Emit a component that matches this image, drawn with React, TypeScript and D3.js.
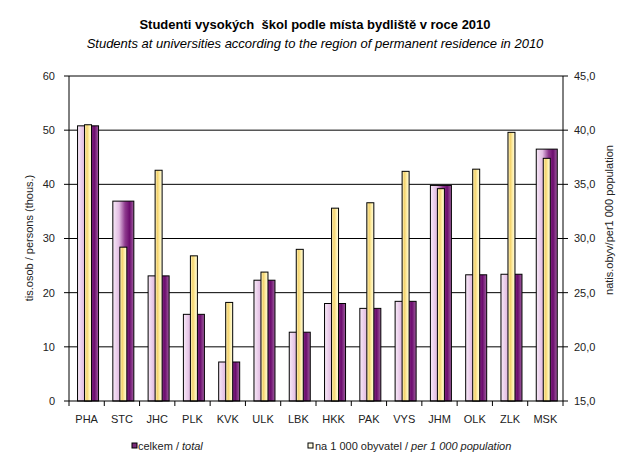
import * as d3 from 'd3';

const categories = ['PHA', 'STC', 'JHC', 'PLK', 'KVK', 'ULK', 'LBK', 'HKK', 'PAK', 'VYS', 'JHM', 'OLK', 'ZLK', 'MSK'];
// celkem / total (tis. osob)
const totals = [50.8, 36.9, 23.1, 16.0, 7.2, 22.3, 12.7, 18.0, 17.1, 18.4, 39.8, 23.3, 23.4, 46.5];
// na 1 000 obyvatel
const perThousand = [40.5, 29.2, 36.3, 28.4, 24.1, 26.9, 29.0, 32.8, 33.3, 36.2, 34.6, 36.4, 39.8, 37.4];
const leftTicks = [0, 10, 20, 30, 40, 50, 60];
const rightTicks = [15, 20, 25, 30, 35, 40, 45];

const W = 626;
const H = 472;
const PLOT = { left: 69, right: 563, top: 76, bottom: 401 };
const FONT = 'Arial, "Liberation Sans", sans-serif';

export default function App() {
  const x = d3.scaleBand<string>().domain(categories).range([PLOT.left, PLOT.right]).padding(0);
  const yL = d3.scaleLinear().domain([0, 60]).range([PLOT.bottom, PLOT.top]);
  const yR = d3.scaleLinear().domain([15, 45]).range([PLOT.bottom, PLOT.top]);
  const fmtR = (v: number) => d3.format('.1f')(v).replace('.', ',');

  const purpleW = 21;
  const yellowW = 7;
  const boundaries = [...categories.map((c) => x(c)!), PLOT.right];

  return (
    <svg width={W} height={H} style={{ position: 'absolute', left: 0, top: 0, background: '#fff' }} fontFamily={FONT}>
      <defs>
        <linearGradient id="purple" x1="0" x2="1" y1="0" y2="0">
          <stop offset="0" stopColor="#f8eaf8" />
          <stop offset="0.3" stopColor="#e2bce2" />
          <stop offset="0.58" stopColor="#8e3a8e" />
          <stop offset="0.8" stopColor="#6c0c6e" />
          <stop offset="1" stopColor="#a060a0" />
        </linearGradient>
        <linearGradient id="yellow" x1="0" x2="1" y1="0" y2="0">
          <stop offset="0" stopColor="#fff6c8" />
          <stop offset="0.35" stopColor="#f4d36e" />
          <stop offset="0.7" stopColor="#fff2b0" />
          <stop offset="1" stopColor="#fffbe2" />
        </linearGradient>
      </defs>
      <rect width={W} height={H} fill="#fff" />

      <text x={315} y={29} textAnchor="middle" fontSize={13} fontWeight="bold">
        Studenti vysokých&#160; škol podle místa bydliště v roce 2010
      </text>
      <text x={315} y={48} textAnchor="middle" fontSize={13} fontStyle="italic">
        Students at universities according to the region of permanent residence in 2010
      </text>

      {/* gridlines */}
      {leftTicks.slice(1).map((t) => (
        <line key={t} x1={PLOT.left} x2={PLOT.right} y1={yL(t)} y2={yL(t)} stroke="#000" strokeWidth={1} />
      ))}

      {/* bars */}
      {categories.map((c, i) => {
        const cx = x(c)! + x.bandwidth() / 2 + 1.4;
        return (
          <g key={c}>
            <rect x={cx - purpleW / 2} y={yL(totals[i])} width={purpleW} height={PLOT.bottom - yL(totals[i])}
              fill="url(#purple)" stroke="#000" strokeWidth={1} />
            <rect x={cx - yellowW / 2} y={yR(perThousand[i])} width={yellowW} height={PLOT.bottom - yR(perThousand[i])}
              fill="url(#yellow)" stroke="#000" strokeWidth={1} />
          </g>
        );
      })}

      {/* axes */}
      <line x1={PLOT.left} x2={PLOT.left} y1={PLOT.top} y2={PLOT.bottom} stroke="#000" />
      <line x1={PLOT.right} x2={PLOT.right} y1={PLOT.top} y2={PLOT.bottom} stroke="#000" />
      <line x1={PLOT.left} x2={PLOT.right} y1={PLOT.bottom} y2={PLOT.bottom} stroke="#000" />

      {leftTicks.map((t) => (
        <g key={t}>
          <line x1={PLOT.left - 5} x2={PLOT.left} y1={yL(t)} y2={yL(t)} stroke="#000" />
          <text x={55} y={yL(t)} dy="0.35em" textAnchor="end" fontSize={11} fill="#222">{t}</text>
        </g>
      ))}
      {rightTicks.map((t) => (
        <g key={t}>
          <line x1={PLOT.right} x2={PLOT.right + 5} y1={yR(t)} y2={yR(t)} stroke="#000" />
          <text x={574} y={yR(t)} dy="0.35em" textAnchor="start" fontSize={11} fill="#222">{fmtR(t)}</text>
        </g>
      ))}
      {boundaries.map((b, i) => (
        <line key={i} x1={b} x2={b} y1={PLOT.bottom} y2={PLOT.bottom + 5} stroke="#000" />
      ))}
      {categories.map((c) => (
        <text key={c} x={x(c)! + x.bandwidth() / 2} y={419} dy="0.35em" textAnchor="middle" fontSize={11} fill="#222">{c}</text>
      ))}

      <text transform={`translate(29,238) rotate(-90)`} textAnchor="middle" dy="0.35em" fontSize={11} fill="#222">
        tis.osob / persons (thous.)
      </text>
      <text transform={`translate(609,220) rotate(-90)`} textAnchor="middle" dy="0.35em" fontSize={11} fill="#222">
        natis.obyv/per1 000 population
      </text>

      {/* legend */}
      <rect x={132} y={443} width={5} height={5} fill="#7a2a7a" stroke="#000" strokeWidth={1} />
      <text x={138} y={446} dy="0.35em" fontSize={11} fill="#222">
        celkem / <tspan fontStyle="italic">total</tspan>
      </text>
      <rect x={308} y={443} width={5} height={5} fill="#fffbe2" stroke="#000" strokeWidth={1} />
      <text x={315} y={446} dy="0.35em" fontSize={11} fill="#222">
        na 1 000 obyvatel /  <tspan fontStyle="italic">per 1 000 population</tspan>
      </text>
    </svg>
  );
}
